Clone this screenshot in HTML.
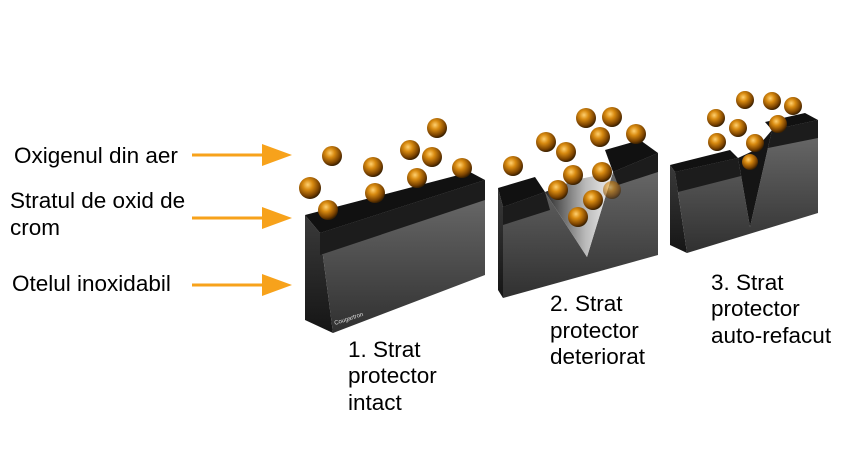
<!DOCTYPE html>
<html><head><style>
body{margin:0;background:#fff;width:844px;height:475px;overflow:hidden}
svg{display:block}
text{font-family:"Liberation Sans",sans-serif;font-size:22.5px;fill:#000}
</style></head><body>
<svg width="844" height="475" viewBox="0 0 844 475">
<defs>
<radialGradient id="b" cx="0.4" cy="0.35" r="0.65"><stop offset="0" stop-color="#ffd070"/><stop offset="0.35" stop-color="#d88a10"/><stop offset="0.8" stop-color="#7a4200"/><stop offset="1" stop-color="#3a2000"/></radialGradient>
<linearGradient id="f" x1="0" y1="0" x2="0" y2="1"><stop offset="0" stop-color="#6e6e6e"/><stop offset="1" stop-color="#303030"/></linearGradient>
<linearGradient id="s" x1="0" y1="0" x2="0" y2="1"><stop offset="0" stop-color="#3a3a3a"/><stop offset="1" stop-color="#151515"/></linearGradient>
<linearGradient id="v" x1="0" y1="0" x2="1" y2="0"><stop offset="0" stop-color="#2a2a2a"/><stop offset="0.6" stop-color="#bbbbbb"/><stop offset="1" stop-color="#f0f0f0"/></linearGradient>
</defs>
<g stroke="#f7a21b" stroke-width="3" fill="none">
<line x1="192" y1="155" x2="280" y2="155"/><line x1="192" y1="218" x2="280" y2="218"/><line x1="192" y1="285" x2="280" y2="285"/></g>
<g fill="#f7a21b"><path d="M262,144 L292,155 L262,166z"/><path d="M262,207 L292,218 L262,229z"/><path d="M262,274 L292,285 L262,296z"/></g>
<text x="14" y="163">Oxigenul din aer</text>
<text x="10" y="208">Stratul de oxid de</text>
<text x="10" y="235">crom</text>
<text x="12" y="291">Otelul inoxidabil</text>

<!-- block 1 -->
<polygon points="305,215 320,233 333,333 305,320" fill="url(#s)"/>
<polygon points="320,233 485,180 485,275 333,333" fill="url(#f)"/>
<polygon points="320,233 485,180 485,200 320,255" fill="#1c1c1c"/>
<polygon points="305,215 470,172 485,180 320,233" fill="#111"/>
<text x="335" y="325" style="font-size:6px;fill:#ddd" transform="rotate(-18 335 325)">Cougartron</text>

<!-- block 2 -->
<polygon points="498,188 503,207 503,298 498,290" fill="url(#s)"/>
<polygon points="503,207 545,192 587,257 613,172 658,153 658,255 503,298" fill="url(#f)"/>
<polygon points="503,207 545,192 550,210 503,225" fill="#1c1c1c"/>
<polygon points="498,188 535,177 545,192 503,207" fill="#111"/>
<polygon points="613,172 658,153 658,172 618,185" fill="#1c1c1c"/>
<polygon points="605,150 640,140 658,153 613,172" fill="#111"/>
<polygon points="545,192 587,257 613,172 575,180" fill="url(#v)"/>

<!-- block 3 -->
<polygon points="670,165 675,172 687,253 670,245" fill="url(#s)"/>
<polygon points="675,172 738,158 750,227 772,130 818,120 818,213 687,253" fill="url(#f)"/>
<polygon points="675,172 738,158 741,176 678,192" fill="#1c1c1c"/>
<polygon points="670,165 730,150 738,158 675,172" fill="#111"/>
<polygon points="772,130 818,120 818,138 768,148" fill="#1c1c1c"/>
<polygon points="765,122 805,113 818,120 772,130" fill="#111"/>
<polygon points="738,158 750,227 772,130 755,150" fill="#151515"/>

<g fill="url(#b)">
<circle cx="310" cy="188" r="11"/><circle cx="332" cy="156" r="10"/><circle cx="328" cy="210" r="10"/><circle cx="373" cy="167" r="10"/><circle cx="375" cy="193" r="10"/><circle cx="410" cy="150" r="10"/><circle cx="432" cy="157" r="10"/><circle cx="437" cy="128" r="10"/><circle cx="417" cy="178" r="10"/><circle cx="462" cy="168" r="10"/>
<circle cx="513" cy="166" r="10"/><circle cx="546" cy="142" r="10"/><circle cx="566" cy="152" r="10"/><circle cx="586" cy="118" r="10"/><circle cx="612" cy="117" r="10"/><circle cx="600" cy="137" r="10"/><circle cx="636" cy="134" r="10"/><circle cx="573" cy="175" r="10"/><circle cx="602" cy="172" r="10"/><circle cx="593" cy="200" r="10"/><circle cx="558" cy="190" r="10"/><circle cx="578" cy="217" r="10"/><circle cx="612" cy="190" r="9" opacity="0.6"/>
<circle cx="745" cy="100" r="9"/><circle cx="772" cy="101" r="9"/><circle cx="793" cy="106" r="9"/><circle cx="716" cy="118" r="9"/><circle cx="738" cy="128" r="9"/><circle cx="778" cy="124" r="9"/><circle cx="717" cy="142" r="9"/><circle cx="755" cy="143" r="9"/><circle cx="750" cy="162" r="8"/>
</g>

<text x="348" y="357">1. Strat</text><text x="348" y="383">protector</text><text x="348" y="410">intact</text>
<text x="550" y="311">2. Strat</text><text x="550" y="338">protector</text><text x="550" y="364">deteriorat</text>
<text x="711" y="290">3. Strat</text><text x="711" y="316">protector</text><text x="711" y="343">auto-refacut</text>
</svg>
</body></html>
